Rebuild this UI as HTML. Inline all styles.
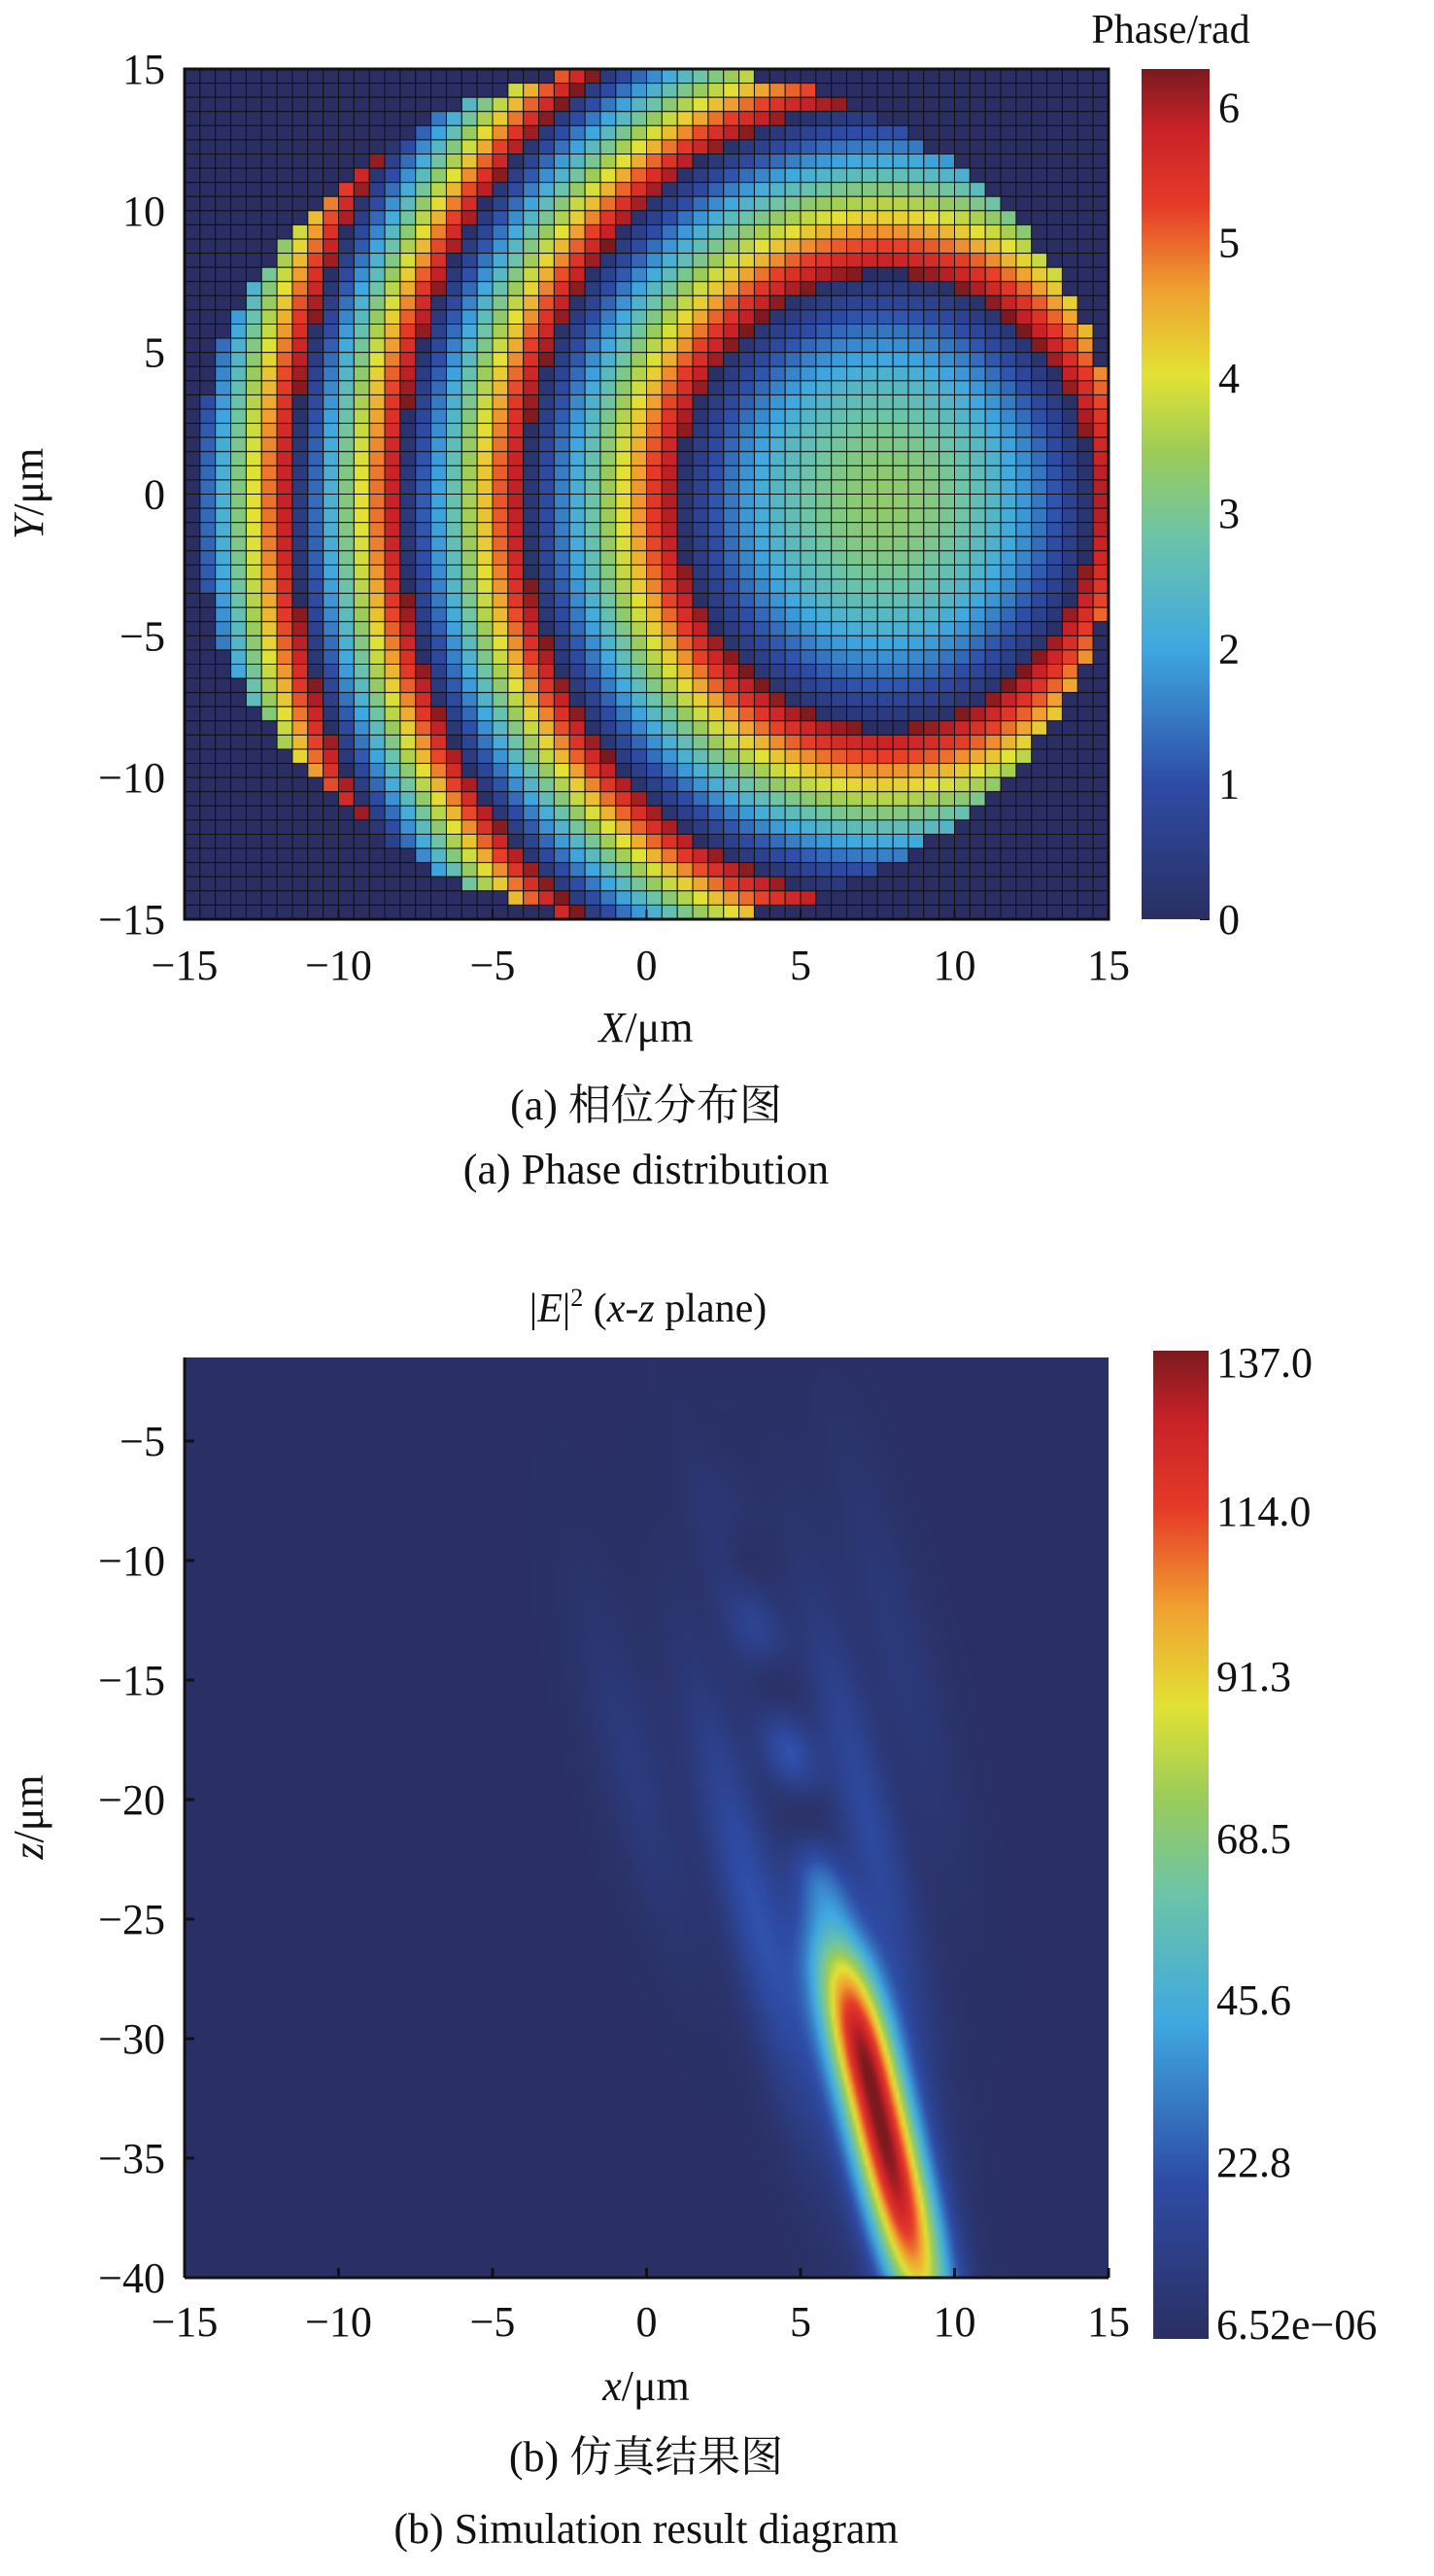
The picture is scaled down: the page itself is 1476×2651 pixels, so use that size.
<!DOCTYPE html>
<html><head><meta charset="utf-8">
<style>
html,body{margin:0;padding:0;background:#fff;}
#wrap{position:relative;width:1476px;height:2651px;overflow:hidden;}
svg{position:absolute;left:0;top:0;}
text{font-family:"Liberation Serif","Noto Serif CJK SC",serif;fill:#111;}
#cv{position:absolute;left:190px;top:1397px;width:951px;height:947px;}
</style></head>
<body><div id="wrap">
<canvas id="cv" width="300" height="300"></canvas>
<svg id="s" width="1476" height="2651" xmlns="http://www.w3.org/2000/svg">
<defs>
<linearGradient id="jet1" x1="0" y1="1" x2="0" y2="0">
<stop offset="0" stop-color="#2a2f62"/><stop offset="0.16" stop-color="#2e4ca6"/>
<stop offset="0.32" stop-color="#3fa8e0"/><stop offset="0.45" stop-color="#6cc4a8"/>
<stop offset="0.55" stop-color="#9ccc58"/><stop offset="0.64" stop-color="#e2e234"/>
<stop offset="0.74" stop-color="#f0a030"/><stop offset="0.84" stop-color="#e63a28"/>
<stop offset="0.93" stop-color="#c82228"/><stop offset="1" stop-color="#7a1a1e"/>
</linearGradient>
</defs>
<g id="grid"></g>
<g fill="none" stroke="#111" stroke-width="3">
<rect x="190" y="71" width="951" height="875"/>
</g>
<g id="ax"></g>
<rect x="1175" y="71" width="70" height="875" fill="url(#jet1)"/>
<rect x="1187" y="1390" width="57" height="1017" fill="url(#jet1)"/>
<text x="1205" y="44" font-size="42" text-anchor="middle">Phase/rad</text>
<text x="665" y="1072" font-size="44" text-anchor="middle"><tspan font-style="italic">X</tspan>/μm</text>
<text x="665" y="1152" font-size="44" text-anchor="middle">(a) 相位分布图</text>
<text x="665" y="1218" font-size="44" text-anchor="middle">(a) Phase distribution</text>
<text transform="translate(44,508) rotate(-90)" font-size="44" text-anchor="middle"><tspan font-style="italic">Y</tspan>/μm</text>
<text x="667" y="1360" font-size="42" text-anchor="middle">|<tspan font-style="italic">E</tspan>|<tspan font-size="26" dy="-16">2</tspan><tspan dy="16"> (</tspan><tspan font-style="italic">x</tspan>-<tspan font-style="italic">z</tspan> plane)</text>
<text x="665" y="2470" font-size="44" text-anchor="middle"><tspan font-style="italic">x</tspan>/μm</text>
<text x="665" y="2543" font-size="44" text-anchor="middle">(b) 仿真结果图</text>
<text x="665" y="2617" font-size="44" text-anchor="middle">(b) Simulation result diagram</text>
<text transform="translate(44,1870) rotate(-90)" font-size="44" text-anchor="middle"><tspan font-style="italic">z</tspan>/μm</text>
</svg>
</div>
<script>
function lerp(a,b,t){return a+(b-a)*t;}
var stops=[[0,[42,47,98]],[0.16,[46,76,166]],[0.32,[63,168,224]],[0.45,[108,196,168]],[0.55,[156,204,88]],[0.64,[226,226,52]],[0.74,[240,160,48]],[0.84,[230,58,40]],[0.93,[200,34,40]],[1,[122,26,30]]];
function cmap(t){t=Math.max(0,Math.min(1,t));for(var i=1;i<stops.length;i++){if(t<=stops[i][0]){var a=stops[i-1],b=stops[i],f=(t-a[0])/(b[0]-a[0]);return [lerp(a[1][0],b[1][0],f),lerp(a[1][1],b[1][1],f),lerp(a[1][2],b[1][2],f)];}}return stops[stops.length-1][1];}
function hex(c){return 'rgb('+Math.round(c[0])+','+Math.round(c[1])+','+Math.round(c[2])+')';}
var TP=2*Math.PI;
var kd=[6.75,11.75,15.75,19.25,22.75,26.25];
function phase(d){
 if(d<=kd[0]){return 3.3*(1-(d/kd[0])*(d/kd[0]));}
 for(var k=1;k<kd.length;k++){if(d<=kd[k]){return -TP*((k-1)+(d-kd[k-1])/(kd[k]-kd[k-1]));}}
 return -TP*5;
}
var g=document.getElementById('grid');var h='';
var x0=190,y0=71,W=951,H=875,n=60,cw=W/n,ch=H/n;
for(var i=0;i<n;i++)for(var j=0;j<n;j++){
 var x=-14.75+0.5*i,y=14.75-0.5*j;var col='#2b2e62';
 var r=Math.hypot(x-0.4,y);
 if(r<=15.1){var dx=x-7.75,dy=(y+0.25)*0.84;var d=Math.sqrt(dx*dx+dy*dy);
  var p=phase(d);p=((p%TP)+TP)%TP;col=hex(cmap(p/TP));}
 h+='<rect x="'+(x0+i*cw).toFixed(2)+'" y="'+(y0+j*ch).toFixed(2)+'" width="'+cw.toFixed(2)+'" height="'+ch.toFixed(2)+'" fill="'+col+'" stroke="#111" stroke-width="1"/>';
}
g.innerHTML=h;
var ax='';
for(var k=-15;k<=15;k+=5){var px=190+(k+15)*W/30;ax+='<text x="'+px+'" y="1008" font-size="44" text-anchor="middle">'+(k<0?'−'+(-k):k)+'</text>';ax+='<line x1="'+px+'" y1="946" x2="'+px+'" y2="936" stroke="#111" stroke-width="2"/>';
var py=946-(k+15)*H/30;ax+='<text x="170" y="'+(py+15)+'" font-size="44" text-anchor="end">'+(k<0?'−'+(-k):k)+'</text>';}
for(var k=0;k<=6;k++){var py=946-k*875/6.2832;ax+='<text x="1254" y="'+(py+15)+'" font-size="44">'+k+'</text><line x1="1235" y1="'+py+'" x2="1245" y2="'+py+'" stroke="#111" stroke-width="2"/>';}
for(var k=-15;k<=15;k+=5){var px=190+(k+15)*951/30;ax+='<text x="'+px+'" y="2404" font-size="44" text-anchor="middle">'+(k<0?'−'+(-k):k)+'</text><line x1="'+px+'" y1="2344" x2="'+px+'" y2="2334" stroke="#111" stroke-width="3"/>';}
for(var z=-5;z>=-40;z-=5){var py=1483+(-5-z)*24.6;ax+='<text x="170" y="'+(py+15)+'" font-size="44" text-anchor="end">−'+(-z)+'</text><line x1="190" y1="'+py+'" x2="200" y2="'+py+'" stroke="#111" stroke-width="3"/>';}
var lab=[['137.0',1402],['114.0',1555],['91.3',1725],['68.5',1892],['45.6',2058],['22.8',2225],['6.52e−06',2392]];
lab.forEach(function(l){ax+='<text x="1252" y="'+(l[1]+15)+'" font-size="44">'+l[0]+'</text>';});
ax+='<line x1="190" y1="2344" x2="1141" y2="2344" stroke="#111" stroke-width="3"/><line x1="190" y1="1397" x2="190" y2="2344" stroke="#111" stroke-width="3"/>';
document.getElementById('ax').innerHTML=ax;
var cv=document.getElementById('cv'),c=cv.getContext('2d'),N=300,img=c.createImageData(N,N);
function G(v,s){return Math.exp(-v*v/(2*s*s));}
for(var j=0;j<N;j++)for(var i=0;i<N;i++){
 var x=-15+30*(i+0.5)/N,z=-1.5-38.5*(j+0.5)/N;
 var xc=7.3-(z+32)*0.19,w=x-xc,u=z+32.5;
 var a=u>0?7.0:10;
 var I=137*Math.exp(-Math.pow(Math.abs(u)/a,3))*G(w,0.8);
 var lob=0;
 if(z>-27){var m=0.5+0.5*Math.cos(2*Math.PI*(z+18)/5.5);lob+=22*G(w,0.6)*m*G(z+19,6);}
 lob+=22*G(w+2.4,0.75)*G(z+25,6.5);
 lob+=18*G(w-2.0,0.7)*G(z+21,6.5);
 lob+=8*G(w+5.2,0.8)*G(z+19,5);
 lob+=7*G(w-4.3,0.8)*G(z+14,6);
 lob+=5*G(w+0.8,0.5)*G(z+11,4);
 var t=(I+lob+1)/137;var col=cmap(t);
 var o=(j*N+i)*4;img.data[o]=col[0];img.data[o+1]=col[1];img.data[o+2]=col[2];img.data[o+3]=255;
}
c.putImageData(img,0,0);
</script>
</body></html>
